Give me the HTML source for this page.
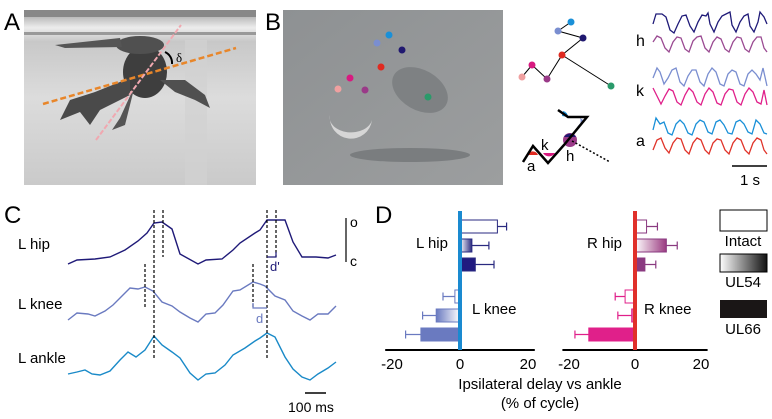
<!DOCTYPE html>
<html><head><meta charset="utf-8"><style>
body{margin:0;background:#fff}
svg{display:block;font-family:"Liberation Sans",Arial,sans-serif}
</style></head><body>
<svg width="772" height="419" viewBox="0 0 772 419">
<defs>
<linearGradient id="gA" x1="0" y1="0" x2="0" y2="1"><stop offset="0" stop-color="#9a9a9a"/><stop offset="0.1" stop-color="#ececec"/><stop offset="0.18" stop-color="#c8c8c8"/><stop offset="0.5" stop-color="#dcdcdc"/><stop offset="1" stop-color="#cacaca"/></linearGradient>
<linearGradient id="gB" x1="0" y1="0" x2="1" y2="1"><stop offset="0" stop-color="#8e9193"/><stop offset="1" stop-color="#9c9e9f"/></linearGradient>
<linearGradient id="gUL54" x1="0" y1="0" x2="1" y2="0"><stop offset="0" stop-color="#fff"/><stop offset="1" stop-color="#111"/></linearGradient>
<linearGradient id="gLhip54" x1="0" y1="0" x2="1" y2="0"><stop offset="0" stop-color="#fff"/><stop offset="1" stop-color="#2a2a80"/></linearGradient>
<linearGradient id="gLknee54" x1="1" y1="0" x2="0" y2="0"><stop offset="0" stop-color="#fff"/><stop offset="1" stop-color="#6a7ac0"/></linearGradient>
<linearGradient id="gRhip54" x1="0" y1="0" x2="1" y2="0"><stop offset="0" stop-color="#fff"/><stop offset="1" stop-color="#9a3a80"/></linearGradient>
<linearGradient id="gRknee54" x1="1" y1="0" x2="0" y2="0"><stop offset="0" stop-color="#fff"/><stop offset="1" stop-color="#e0208a"/></linearGradient>
</defs>

<!-- Panel A photo -->
<g>
<rect x="24" y="10" width="232" height="175" fill="url(#gA)"/>
<rect x="24" y="10" width="232" height="7" fill="#888"/>
<rect x="24" y="32" width="232" height="3" fill="#999"/>
<rect x="185" y="40" width="22" height="145" fill="#d2d2d2" opacity="0.7"/>
<ellipse cx="145" cy="72" rx="22" ry="26" fill="#3e3e3e"/>
<ellipse cx="140" cy="45" rx="24" ry="9" fill="#505050"/>
<path d="M55,45 L120,38 L122,47 L65,48 Z" fill="#555"/>
<path d="M130,78 L95,92 L70,100 L60,120 L80,112 L90,125 L100,110 L130,95 Z" fill="#4a4a4a"/>
<path d="M135,85 L120,118 L112,130 L125,125 L130,105 Z" fill="#555"/>
<path d="M160,80 L185,80 L205,95 L210,108 L195,100 L175,92 Z" fill="#505050"/>
<line x1="43" y1="104" x2="236" y2="48" stroke="#e8862a" stroke-width="2.5" stroke-dasharray="6,3"/>
<line x1="96" y1="140" x2="181" y2="25" stroke="#f0a8b0" stroke-width="2" stroke-dasharray="5,2"/>
<path d="M165,52 A12,12 0 0 1 172,64" fill="none" stroke="#000" stroke-width="2"/>
<text x="176" y="62" font-size="13" font-family="Liberation Serif,serif">δ</text>
</g>
<text x="4" y="30" font-size="24">A</text>

<!-- Panel B photo -->
<g>
<rect x="283" y="10" width="220" height="175" fill="url(#gB)"/>
<ellipse cx="420" cy="90" rx="30" ry="20" fill="#7e8183" transform="rotate(30 420 90)"/>
<path d="M330,115 A18,18 0 0 0 372,120 A20,14 0 0 1 330,115 Z" fill="#d6d6d6"/>
<ellipse cx="410" cy="155" rx="60" ry="7" fill="#7a7d7f"/>
<circle cx="389" cy="35" r="3.5" fill="#1a90d8"/>
<circle cx="377" cy="43" r="3.5" fill="#7a8ed0"/>
<circle cx="402" cy="50" r="3.5" fill="#201870"/>
<circle cx="381" cy="67" r="3.5" fill="#e02a20"/>
<circle cx="350" cy="78" r="3.5" fill="#d81a80"/>
<circle cx="338" cy="89" r="3.5" fill="#f0a0a0"/>
<circle cx="365" cy="90" r="3.5" fill="#9a3a88"/>
<circle cx="428" cy="97" r="3.5" fill="#2a9a6a"/>
</g>
<text x="265" y="30" font-size="24">B</text>

<!-- Skeleton diagram -->
<g stroke="#000" stroke-width="1">
<polyline points="571,22 558,31 583,38 562,55 547,79 532,65 522,77" fill="none"/>
<line x1="562" y1="55" x2="611" y2="86"/>
<g stroke="none">
<circle cx="571" cy="22" r="3.5" fill="#1a90d8"/><circle cx="558" cy="31" r="3.5" fill="#7a8ed0"/>
<circle cx="583" cy="38" r="3.5" fill="#201870"/><circle cx="562" cy="55" r="3.5" fill="#e02a20"/>
<circle cx="532" cy="65" r="3.5" fill="#d81a80"/><circle cx="522" cy="77" r="3.5" fill="#f0a0a0"/>
<circle cx="547" cy="79" r="3.5" fill="#9a3a88"/><circle cx="611" cy="86" r="3.5" fill="#2a9a6a"/>
</g>
</g>
<g>
<path d="M563,111 A6,6 0 0 1 568,117 L562,116Z" fill="#1a90d8"/>
<path d="M580,118 A7,7 0 0 1 577,127 L583,120Z" fill="#7a8ed0"/>
<circle cx="570" cy="140" r="7" fill="#9a3a88"/><path d="M564,137 A7,7 0 0 1 576,137 Z" fill="#201870"/>
<path d="M527,155 A6,6 0 0 1 538,155 Z" fill="#e02a20"/>
<path d="M543,153 A7,7 0 0 0 555,153 Z" fill="#d81a80"/>
<polyline points="558,110 568,117 587,117 564,145 548,163 533,146 523,162" fill="none" stroke="#000" stroke-width="2.5"/>
<line x1="572" y1="141" x2="610" y2="162" stroke="#000" stroke-width="1.5" stroke-dasharray="2,2"/>
<text x="527" y="171" font-size="15">a</text><text x="541" y="150" font-size="15">k</text><text x="566" y="161" font-size="15">h</text>
</g>

<!-- Top right traces -->
<g fill="none" stroke-width="1.3">
<polyline stroke="#1f1a78" points="653,24 656,14 662,14 666,17 670,30 674,33 678,24 682,16 686,15 690,26 694,32 698,22 702,15 706,16 708,13 710,24 714,32 718,22 722,16 726,14 730,12 732,25 736,32 740,22 744,16 748,14 750,26 754,32 758,22 760,12 764,17 767,24"/>
<polyline stroke="#9a4a92" points="653,42 657,36 661,38 665,48 669,52 673,42 677,37 681,38 685,49 689,52 693,41 697,37 701,36 705,48 709,52 713,42 717,37 721,39 725,49 729,52 733,42 737,37 741,38 745,49 749,52 753,42 757,37 761,37 764,48 767,52"/>
<polyline stroke="#7a8ed0" points="653,78 657,68 660,72 664,84 668,78 672,70 676,68 680,82 684,86 688,76 692,70 696,70 700,82 704,86 708,74 712,68 716,72 720,84 724,86 728,74 732,70 736,72 740,84 744,86 748,74 752,70 756,74 760,80 763,68 767,86"/>
<polyline stroke="#e0208a" points="653,88 657,96 661,104 665,96 669,89 673,91 677,102 681,105 685,95 689,88 693,92 697,102 701,105 705,94 709,88 713,92 717,103 721,105 725,94 729,89 733,90 737,102 741,105 745,94 749,88 753,92 757,102 761,104 764,90 767,105"/>
<polyline stroke="#1a90d8" points="653,130 656,118 660,124 664,122 668,133 672,135 676,124 680,120 684,124 688,133 692,135 696,124 700,120 704,122 708,132 712,134 716,122 720,120 724,125 728,133 732,134 736,122 740,120 744,124 748,132 752,134 756,120 760,124 764,133 767,134"/>
<polyline stroke="#e0342a" points="653,150 657,140 661,138 665,148 669,153 673,143 677,138 681,139 685,150 689,154 693,143 697,138 701,140 705,150 709,154 713,143 717,139 721,140 725,150 729,154 733,143 737,138 741,140 745,150 749,154 753,143 757,138 761,140 764,150 767,154"/>
</g>
<text x="636" y="46" font-size="16">h</text>
<text x="636" y="96" font-size="16">k</text>
<text x="636" y="146" font-size="16">a</text>
<line x1="732" y1="166" x2="767" y2="166" stroke="#000" stroke-width="1.5"/>
<text x="740" y="185" font-size="15">1 s</text>

<!-- Panel C -->
<text x="4" y="223" font-size="24">C</text>
<text x="18" y="249" font-size="15">L hip</text>
<text x="18" y="309" font-size="15">L knee</text>
<text x="18" y="363" font-size="15">L ankle</text>
<g id="traceC"></g>
<g stroke="#000" stroke-width="1.2" stroke-dasharray="3,2">
<line x1="145" y1="264" x2="145" y2="308"/><line x1="154" y1="210" x2="154" y2="358"/><line x1="163" y1="210" x2="163" y2="257"/>
<line x1="253" y1="264" x2="253" y2="308"/><line x1="267" y1="210" x2="267" y2="358"/><line x1="276" y1="210" x2="276" y2="257"/>
</g>
<polyline points="267,257 276,257 276,252" fill="none" stroke="#1f1a78" stroke-width="1.2"/>
<text x="270" y="271" font-size="13" fill="#1f1a78">d'</text>
<polyline points="253,303 253,308 267,308" fill="none" stroke="#6a7ac0" stroke-width="1.2"/>
<text x="256" y="323" font-size="13" fill="#6a7ac0">d</text>
<line x1="346" y1="218" x2="346" y2="262" stroke="#000" stroke-width="1.2"/>
<text x="350" y="227" font-size="14">o</text>
<text x="350" y="266" font-size="14">c</text>
<line x1="305" y1="393" x2="326" y2="393" stroke="#000" stroke-width="1.5"/>
<text x="288" y="412" font-size="14">100 ms</text>

<!-- Panel D -->
<text x="375" y="223" font-size="24">D</text>
<g id="chartD"></g>
<text x="416" y="248" font-size="15">L hip</text>
<text x="472" y="314" font-size="15">L knee</text>
<text x="587" y="248" font-size="15">R hip</text>
<text x="644" y="314" font-size="15">R knee</text>
<text x="540" y="389" font-size="15" text-anchor="middle">Ipsilateral delay vs ankle</text>
<text x="540" y="408" font-size="15" text-anchor="middle">(% of cycle)</text>
<g>
<rect x="720" y="210" width="47" height="21" fill="#fff" stroke="#000" stroke-width="1"/>
<text x="743" y="246" font-size="15" text-anchor="middle">Intact</text>
<rect x="720" y="254" width="47" height="18" fill="url(#gUL54)" stroke="#000" stroke-width="1"/>
<text x="743" y="287" font-size="15" text-anchor="middle">UL54</text>
<rect x="720" y="300" width="47" height="18" fill="#1a1616"/>
<text x="743" y="334" font-size="15" text-anchor="middle">UL66</text>
</g>
</svg>
<script>
// Panel C traces (time px, joint angle px)
const hipT=[68,77,95,110,125,138,147,154,162,172,180,198,206,222,233,240,255,260,267,285,293,302,316,328,336];
const hipY=[264,260,259,257,250,241,233,223,222,229,254,264,260,259,250,243,233,230,220,220,242,257,257,258,255];
const kneeT=[68,77,88,95,105,113,120,130,138,145,153,162,172,180,190,198,206,215,223,233,240,253,260,265,275,285,293,302,310,318,328,336];
const kneeY=[320,313,314,316,311,305,298,288,289,287,291,302,306,312,318,322,314,313,305,291,290,282,284,286,296,300,311,316,320,314,314,306];
const ankleT=[68,77,85,92,100,110,120,128,136,145,154,162,172,180,190,198,206,215,225,233,245,255,260,267,275,285,293,302,310,318,328,336];
const ankleY=[374,372,370,374,375,371,360,352,357,350,336,345,352,358,373,380,374,373,365,355,348,341,338,333,337,357,369,377,380,374,368,362];
const NS='http://www.w3.org/2000/svg';
const gC=document.getElementById('traceC');
[[hipT,hipY,'#1f1a78','trace-l-hip'],[kneeT,kneeY,'#6a7ac0','trace-l-knee'],[ankleT,ankleY,'#1a8ac8','trace-l-ankle']].forEach(s=>{
  const p=document.createElementNS(NS,'polyline');
  p.setAttribute('points',s[0].map((t,i)=>t+','+s[1][i]).join(' '));
  p.setAttribute('fill','none');p.setAttribute('stroke',s[2]);p.setAttribute('stroke-width','1.4');
  
  
  gC.appendChild(p);
});

// Panel D data (% of cycle)
const conditions=['Intact','UL54','UL66'];
const lHip=[11,3.5,4.5], lHipErr=[2.7,5,5.5];
const lKnee=[-1.5,-7,-11.5], lKneeErr=[3.5,4,4.5];
const rHip=[3.5,9.5,3], rHipErr=[3.3,3.3,3.3];
const rKnee=[-3,-1,-14], rKneeErr=[3,4.2,4.2];
const tickVals=[-20,0,20];

const gD=document.getElementById('chartD');
function el(tag,attrs){const e=document.createElementNS(NS,tag);for(const k in attrs)e.setAttribute(k,attrs[k]);gD.appendChild(e);return e;}
const rowsY=[220,239,258], kneeRowsY=[290,309,328], barH=13;
function panel(x0,scale,axisColor,hip,hipE,knee,kneeE,hipFills,kneeFills,hipStroke,kneeStroke,side){
  const xs=v=>x0+v*scale;
  const ax=el('line',{x1:xs(-22),x2:xs(22),y1:350,y2:350,stroke:'#000','stroke-width':2});
  
  
  tickVals.forEach(t=>{const tx=el('text',{x:xs(t),y:369,'font-size':15,'text-anchor':'middle'});tx.textContent=(t<0?'-':'')+Math.abs(t);
    
    });
  [[hip,hipE,rowsY,hipFills,hipStroke,'hip'],[knee,kneeE,kneeRowsY,kneeFills,kneeStroke,'knee']].forEach(g=>{
    g[0].forEach((v,i)=>{
      const y=g[2][i], x1=Math.min(xs(0),xs(v)), w=Math.abs(xs(v)-xs(0));
      const eEnd=xs(v+(v<0?-g[1][i]:g[1][i]));
      const er=el('path',{d:`M${xs(v)},${y+barH/2}H${eEnd}M${eEnd},${y+barH/2-4}V${y+barH/2+4}`,stroke:g[4],'stroke-width':1.2,fill:'none'});
      
      
      const b=el('rect',{x:x1,y:y,width:Math.max(w,1),height:barH,fill:g[3][i],stroke:g[4],'stroke-width':1});
      
      
    });
  });
  const z=el('line',{x1:xs(0),x2:xs(0),y1:211,y2:350,stroke:axisColor,'stroke-width':4});
  
  
}
panel(460,3.4,'#1a8ad0',lHip,lHipErr,lKnee,lKneeErr,['#fff','url(#gLhip54)','#201a80'],['#fff','url(#gLknee54)','#6a7ac0'],'#2a2a80','#6a7ac0','left');
panel(635,3.3,'#e0302a',rHip,rHipErr,rKnee,rKneeErr,['#fff','url(#gRhip54)','#8a3a80'],['#fff','url(#gRknee54)','#e0208a'],'#8a3a80','#e0208a','right');
</script>
</body></html>
